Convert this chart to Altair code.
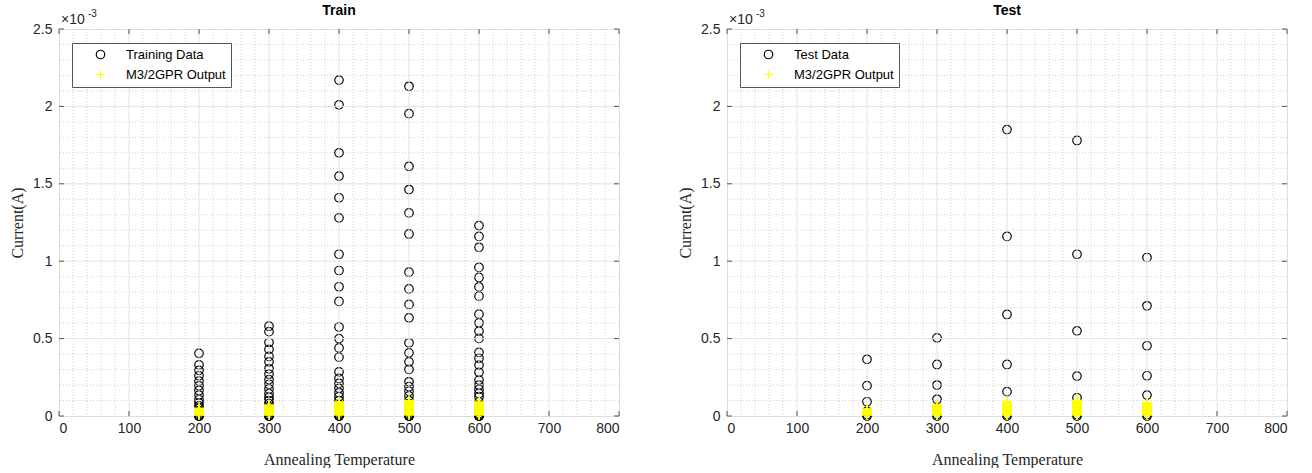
import altair as alt
import pandas as pd

# ---------------- data (current in units of 1e-3 A) ----------------
temps = [200, 300, 400, 500, 600]

train_200 = [0.405, 0.33, 0.295, 0.26, 0.225, 0.195, 0.165, 0.135, 0.105, 0.085, 0.065, 0.05, 0.035, 0.025, 0.015, 0.008, 0.004, 0.001, 0.0, 0.0]
train_300 = [0.58, 0.545, 0.475, 0.43, 0.385, 0.35, 0.305, 0.27, 0.235, 0.205, 0.175, 0.145, 0.12, 0.10, 0.08, 0.06, 0.045, 0.03, 0.02, 0.01, 0.005, 0.002, 0.0, 0.0]
train_400 = [2.17, 2.01, 1.70, 1.55, 1.41, 1.28, 1.045, 0.94, 0.835, 0.74, 0.575, 0.50, 0.44, 0.38, 0.285, 0.243, 0.211, 0.179, 0.15, 0.125, 0.10, 0.075, 0.055, 0.04, 0.025, 0.015, 0.008, 0.003, 0.0, 0.0]
train_500 = [2.13, 1.953, 1.613, 1.463, 1.312, 1.176, 0.929, 0.821, 0.721, 0.634, 0.473, 0.408, 0.35, 0.301, 0.221, 0.19, 0.16, 0.13, 0.10, 0.08, 0.06, 0.04, 0.025, 0.015, 0.008, 0.003, 0.001, 0.0, 0.0]
train_600 = [1.23, 1.16, 1.09, 0.96, 0.895, 0.834, 0.774, 0.658, 0.602, 0.548, 0.501, 0.411, 0.372, 0.329, 0.282, 0.232, 0.20, 0.172, 0.146, 0.125, 0.092, 0.07, 0.05, 0.03, 0.015, 0.008, 0.003, 0.001, 0.0, 0.0]

gpr_train_200 = [0.006, 0.009, 0.012, 0.015, 0.018, 0.021, 0.024, 0.027, 0.03, 0.033, 0.036, 0.039, 0.042, 0.046, 0.05]
gpr_train_300 = [0.006, 0.01, 0.014, 0.018, 0.022, 0.026, 0.03, 0.034, 0.038, 0.042, 0.046, 0.05, 0.054, 0.058, 0.062, 0.066, 0.07]
gpr_train_400 = [0.006, 0.011, 0.016, 0.021, 0.026, 0.031, 0.036, 0.041, 0.046, 0.051, 0.056, 0.061, 0.066, 0.071, 0.076, 0.081, 0.086, 0.09]
gpr_train_500 = [0.006, 0.011, 0.016, 0.021, 0.027, 0.033, 0.039, 0.045, 0.051, 0.057, 0.063, 0.069, 0.075, 0.081, 0.087, 0.093, 0.1]
gpr_train_600 = [0.006, 0.011, 0.016, 0.021, 0.026, 0.031, 0.036, 0.041, 0.046, 0.051, 0.056, 0.061, 0.066, 0.071, 0.076, 0.081, 0.086, 0.09]

test_200 = [0.366, 0.196, 0.092, 0.03, 0.01, 0.0]
test_300 = [0.505, 0.333, 0.20, 0.108, 0.04, 0.01, 0.0]
test_400 = [1.85, 1.16, 0.656, 0.333, 0.157, 0.06, 0.01, 0.0]
test_500 = [1.78, 1.045, 0.55, 0.258, 0.118, 0.06, 0.01, 0.0]
test_600 = [1.024, 0.712, 0.454, 0.26, 0.135, 0.05, 0.01, 0.0]

gpr_test_200 = [0.006, 0.01, 0.014, 0.018, 0.022, 0.026, 0.03, 0.034, 0.038, 0.042, 0.045]
gpr_test_300 = [0.006, 0.011, 0.016, 0.021, 0.026, 0.031, 0.036, 0.041, 0.046, 0.051, 0.056, 0.061, 0.066, 0.07]
gpr_test_400 = [0.006, 0.011, 0.017, 0.023, 0.029, 0.035, 0.041, 0.047, 0.053, 0.059, 0.065, 0.071, 0.077, 0.083, 0.09]
gpr_test_500 = [0.006, 0.012, 0.018, 0.024, 0.03, 0.036, 0.042, 0.048, 0.054, 0.06, 0.066, 0.072, 0.078, 0.084, 0.09, 0.095, 0.1]
gpr_test_600 = [0.006, 0.011, 0.016, 0.021, 0.027, 0.033, 0.039, 0.045, 0.051, 0.057, 0.063, 0.069, 0.075, 0.08, 0.085]

x_major = [0, 100, 200, 300, 400, 500, 600, 700, 800]
y_major = [0, 0.5, 1, 1.5, 2, 2.5]
x_minor = [v for v in range(20, 800, 20) if v % 100 != 0]
y_minor = [round(v / 10, 1) for v in range(1, 25) if v % 5 != 0]

# ---------------- style ----------------
W, H = 560, 387
SANS = "Liberation Sans"
SERIF = "Liberation Serif"
AXC = "#262626"
PLUS = "M-1,0L1,0M0,-1L0,1"

XS = alt.Scale(domain=[0, 800], nice=False, zero=False)
YS = alt.Scale(domain=[0, 2.5], nice=False, zero=False)
X_AXIS = alt.Axis(values=x_major, grid=False, ticks=False, domain=False,
                  labelFont=SANS, labelFontSize=14, labelColor=AXC, labelPadding=5,
                  titleFont=SERIF, titleFontSize=16, titleFontWeight="normal",
                  titleColor=AXC, titlePadding=16)
Y_AXIS = alt.Axis(values=y_major, format="~g", grid=False, ticks=False, domain=False,
                  labelFont=SANS, labelFontSize=14, labelColor=AXC, labelPadding=7,
                  titleFont=SERIF, titleFontSize=16, titleFontWeight="normal",
                  titleColor=AXC, titlePadding=7)


def XE():
    return alt.X("T:Q", scale=XS, title="Annealing Temperature", axis=X_AXIS)


def YE():
    return alt.Y("I:Q", scale=YS, title="Current(A)", axis=Y_AXIS)


def frame(obs_cols, gpr_cols, obs_label):
    rows = []
    for t, col in zip(temps, obs_cols):
        for v in col:
            rows.append({"T": t, "I": v, "S": obs_label, "ord": 0})
    for t, col in zip(temps, gpr_cols):
        for v in col:
            rows.append({"T": t, "I": v, "S": "M3/2GPR Output", "ord": 1})
    return pd.DataFrame(rows)


def legend():
    return alt.Legend(title=None, orient="none", legendX=13, legendY=14,
                      padding=5, rowPadding=5, symbolOffset=17,
                      labelOffset=19, labelFont=SANS, labelFontSize=13,
                      labelColor="#000000", fillColor="white",
                      strokeColor="#555", symbolStrokeWidth=1.2, symbolSize=72)


def panel(title, obs_label, obs_cols, gpr_cols):
    df = frame(obs_cols, gpr_cols, obs_label)

    minor_x = alt.Chart(pd.DataFrame({"T": x_minor})).mark_rule(
        color="#c4c4c4", strokeDash=[1, 2], strokeWidth=0.8).encode(x=XE())
    minor_y = alt.Chart(pd.DataFrame({"I": y_minor})).mark_rule(
        color="#c4c4c4", strokeDash=[1, 2], strokeWidth=0.8).encode(y=YE())
    major_x = alt.Chart(pd.DataFrame({"T": x_major[1:-1]})).mark_rule(
        color="#e2e2e2", strokeWidth=1).encode(x=XE())
    major_y = alt.Chart(pd.DataFrame({"I": y_major[1:-1]})).mark_rule(
        color="#e2e2e2", strokeWidth=1).encode(y=YE())

    xt = pd.DataFrame({"T": x_major})
    yt = pd.DataFrame({"I": y_major})
    tick_b = alt.Chart(xt).mark_rule(color="#555", strokeWidth=1).encode(
        x=XE(), y=alt.value(H), y2=alt.value(H - 5))
    tick_t = alt.Chart(xt).mark_rule(color="#555", strokeWidth=1).encode(
        x=XE(), y=alt.value(0), y2=alt.value(5))
    tick_l = alt.Chart(yt).mark_rule(color="#555", strokeWidth=1).encode(
        y=YE(), x=alt.value(0), x2=alt.value(5))
    tick_r = alt.Chart(yt).mark_rule(color="#555", strokeWidth=1).encode(
        y=YE(), x=alt.value(W - 5), x2=alt.value(W))

    dom = [obs_label, "M3/2GPR Output"]
    pts_obs = alt.Chart(df).transform_filter(alt.datum.ord == 0).mark_point(
        filled=False, strokeWidth=1.2, size=72, opacity=1).encode(
        x=XE(), y=YE(),
        color=alt.Color("S:N", scale=alt.Scale(domain=dom, range=["#000000", "#ffff00"]),
                        legend=legend()),
        shape=alt.Shape("S:N", scale=alt.Scale(domain=dom, range=["circle", PLUS]),
                        legend=legend()),
    )
    pts_gpr = alt.Chart(df).transform_filter(alt.datum.ord == 1).mark_point(
        filled=False, strokeWidth=1.6, size=100, opacity=1).encode(
        x=XE(), y=YE(),
        color=alt.Color("S:N", scale=alt.Scale(domain=dom, range=["#000000", "#ffff00"]),
                        legend=legend()),
        shape=alt.Shape("S:N", scale=alt.Scale(domain=dom, range=["circle", PLUS]),
                        legend=legend()),
    )

    exp_base = alt.Chart(pd.DataFrame({"t": ["×10"]})).mark_text(
        font=SANS, fontSize=14, color=AXC, align="left", baseline="middle"
    ).encode(text="t:N", x=alt.value(2), y=alt.value(-9))
    exp_sup = alt.Chart(pd.DataFrame({"t": ["-3"]})).mark_text(
        font=SANS, fontSize=10, color=AXC, align="left", baseline="middle"
    ).encode(text="t:N", x=alt.value(29), y=alt.value(-15))

    return alt.layer(
        pts_obs, minor_x, minor_y, major_x, major_y, tick_b, tick_t, tick_l, tick_r,
        pts_gpr, exp_base, exp_sup
    ).properties(
        width=W, height=H,
        title=alt.Title(title, font=SANS, fontSize=14, fontWeight="bold", color="#000000",
                        offset=-9, anchor="middle"),
    )


left = panel("Train", "Training Data",
             [train_200, train_300, train_400, train_500, train_600],
             [gpr_train_200, gpr_train_300, gpr_train_400, gpr_train_500, gpr_train_600])
right = panel("Test", "Test Data",
              [test_200, test_300, test_400, test_500, test_600],
              [gpr_test_200, gpr_test_300, gpr_test_400, gpr_test_500, gpr_test_600])

chart = alt.hconcat(left, right, spacing=57).resolve_scale(
    color="independent", shape="independent"
).properties(
    padding={"left": 9, "top": 3, "right": 0, "bottom": 0}
).configure_view(stroke="#555", strokeWidth=1).configure(background="white")

chart.save("out.html", embed_options={"renderer": "svg", "actions": False})
